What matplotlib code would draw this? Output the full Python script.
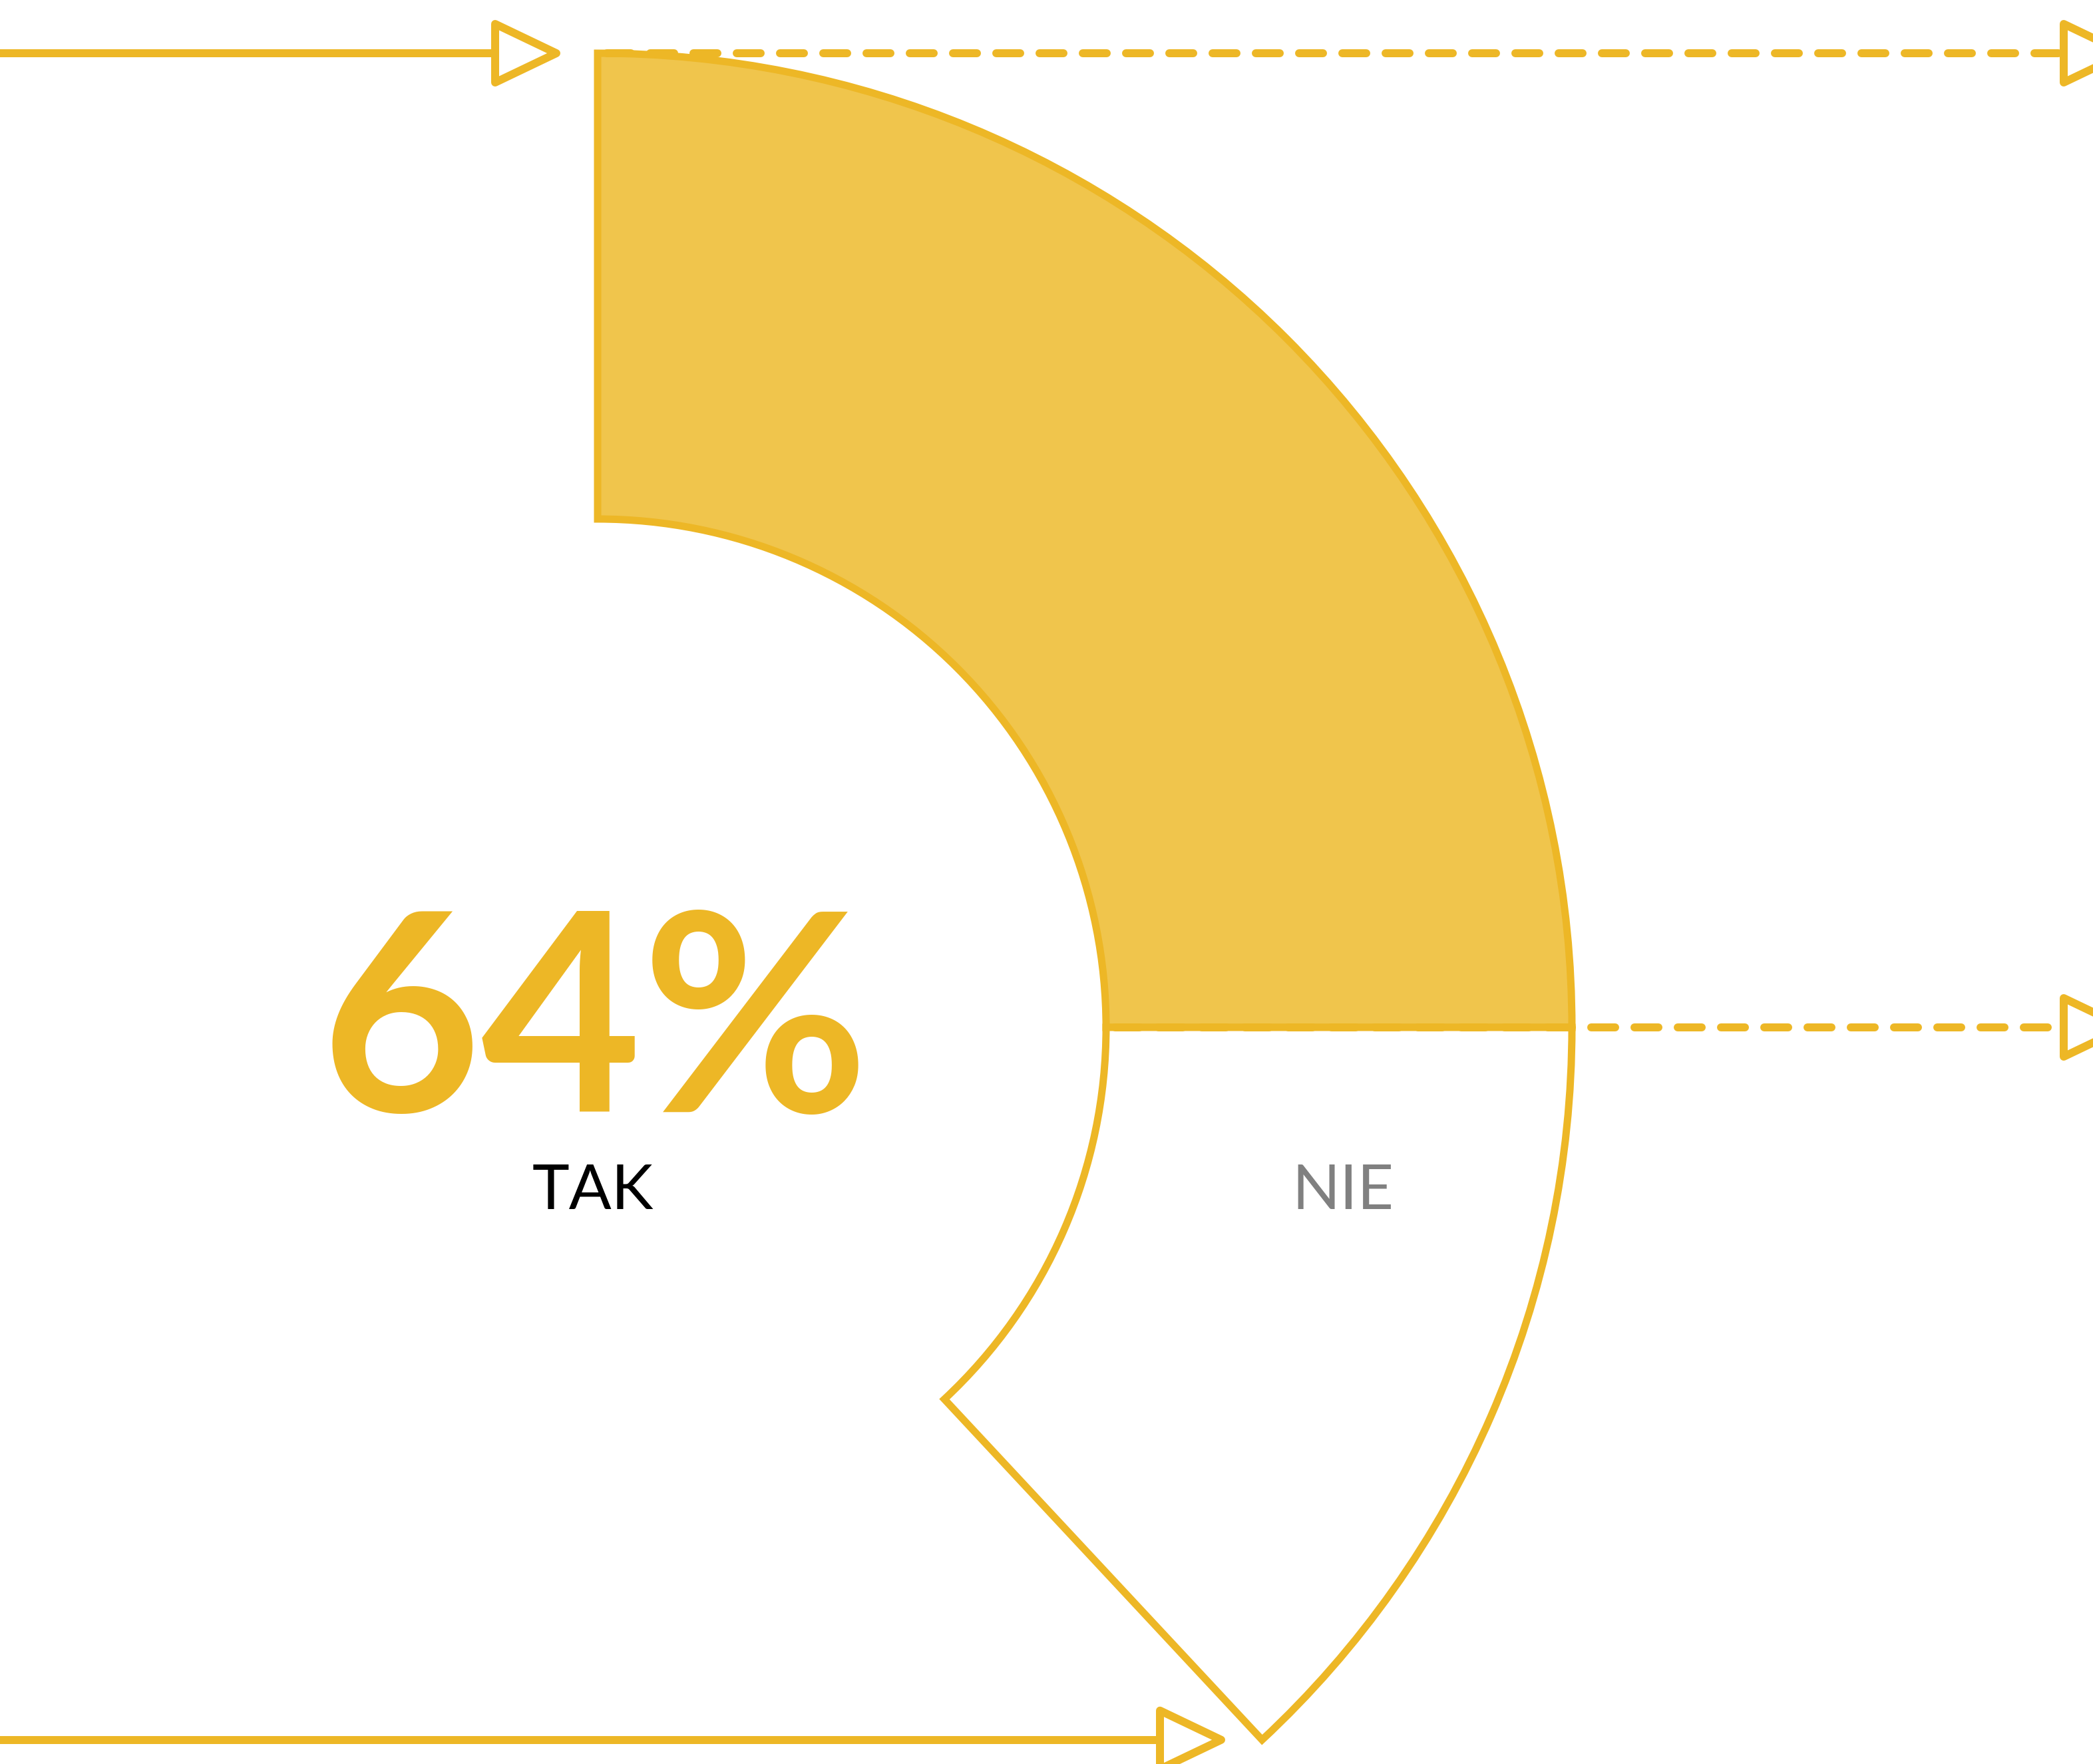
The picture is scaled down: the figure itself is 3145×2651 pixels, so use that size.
import numpy as np
import matplotlib.pyplot as plt
from matplotlib.patches import Wedge, Polygon

plt.rcParams['lines.scale_dashes'] = False

# data
categories = ['TAK', 'NIE']
values = [64, 36]
sweep_deg = [90, 47]          # angular span of each ring segment as drawn
label_colors = ['#000000', '#808080']

GOLD = '#EDB726'
FILL = '#F0C54C'

W, H = 3145, 2651
fig = plt.figure(figsize=(W / 100, H / 100), dpi=100)
ax = fig.add_axes([0, 0, 1, 1])
ax.set_xlim(0, W)
ax.set_ylim(0, H)
ax.set_aspect('equal')
ax.axis('off')

px = 0.72  # points per pixel at dpi 100

# ring geometry (pixel units, y up)
cx, cy = 898, H - 1544
R_out, R_in = 1464, 764

# segments: first one starts at 12 o'clock going clockwise
start = 90
fills = [FILL, 'white']
for i, cat in enumerate(categories):
    t2 = start
    t1 = start - sweep_deg[i]
    ax.add_patch(Wedge((cx, cy), R_out, t1, t2, width=R_out - R_in,
                       facecolor=fills[i], edgecolor=GOLD, lw=11 * px,
                       joinstyle='miter', zorder=2))
    start = t1


def arrow(x0, x1, y, dashed=False):
    if dashed:
        ax.plot([x0, x1], [y, y], color=GOLD, lw=12 * px,
                linestyle=(0, (36 * px, 29 * px)), dash_capstyle='round',
                zorder=4)
    else:
        ax.plot([x0, x1], [y, y], color=GOLD, lw=12 * px,
                solid_capstyle='butt', zorder=4)
    tri = Polygon([[x1, y + 44], [x1 + 92, y], [x1, y - 44]], closed=True,
                  facecolor='white', edgecolor=GOLD, lw=12 * px,
                  joinstyle='round', zorder=5)
    ax.add_patch(tri)


y_top = cy + R_out
end_ang = np.deg2rad(90 - sum(sweep_deg))
y_bot = cy + R_out * np.sin(end_ang)

arrow(0, 744, y_top)
arrow(cx + 14, 3101, y_top, dashed=True)
arrow(cx + R_in + 14, 3101, cy, dashed=True)
arrow(0, 1743, y_bot)

# labels
ax.text(894, H - 1671, f'{values[0]}%', ha='center', va='baseline',
        fontsize=300, fontweight='bold', family='Lato', color=GOLD, zorder=6)
ax.text(891, H - 1817, categories[0], ha='center', va='baseline',
        fontsize=68, family='Lato', color=label_colors[0], zorder=6)
ax.text(2018, H - 1817, categories[1], ha='center', va='baseline',
        fontsize=68, family='Lato', color=label_colors[1], zorder=6)

fig.savefig('out.png', dpi=100, facecolor='white')
